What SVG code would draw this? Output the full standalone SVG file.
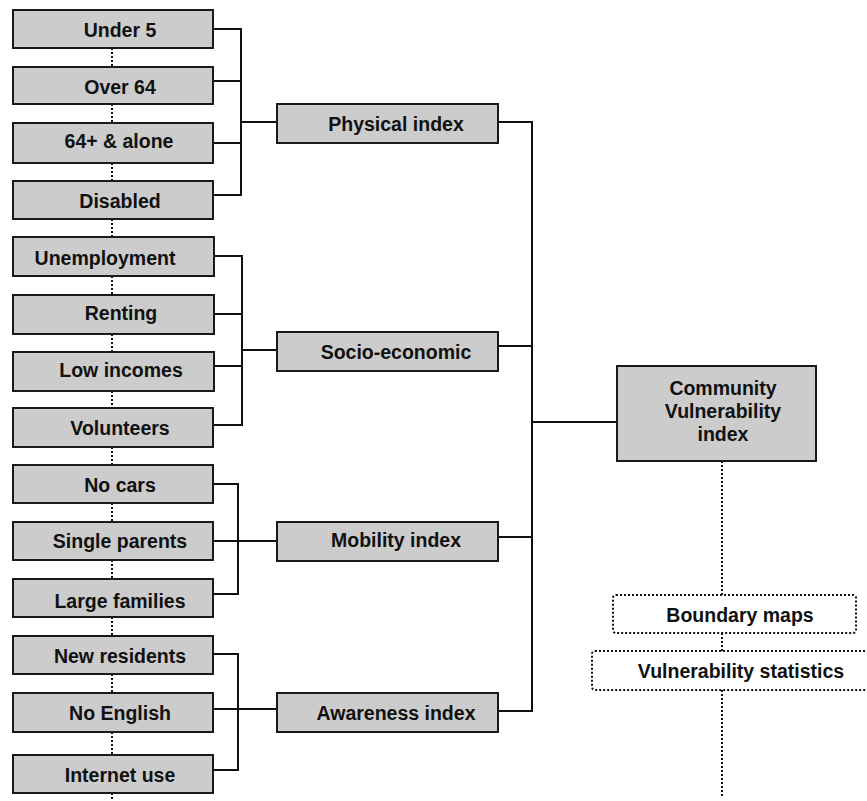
<svg xmlns="http://www.w3.org/2000/svg" width="867" height="801" viewBox="0 0 867 801">
<style>
.box{fill:#cccccc;stroke:#1a1a1a;stroke-width:2}
.dbox{fill:#ffffff;stroke:#111;stroke-width:2;stroke-dasharray:2 2}
.t{font-family:"Liberation Sans",Arial,sans-serif;font-weight:bold;font-size:19.5px;fill:#111;text-anchor:middle}
.ln{fill:none;stroke:#111;stroke-width:2}
.dot{fill:none;stroke:#111;stroke-width:2;stroke-dasharray:2 2}
</style>
<rect width="867" height="801" fill="#ffffff"/>
<g id="connectors">
<path class="dot" d="M112 48V67M112 104V123M112 163V181M112 219V237M112 276V295M112 334V352M112 391V408M112 447V465M112 503V522M112 560V579M112 617V636M112 674V693M112 732V755M112 793V801"/>
<path class="ln" d="M213 29H241V195H213M213 81H241M213 143H241M241 122H277"/>
<path class="ln" d="M214 256H242V425H214M214 314H242M214 366H242M242 350H277"/>
<path class="ln" d="M213 484H238V594H213M213 541H277"/>
<path class="ln" d="M213 654H238V770H213M213 709H277"/>
<path class="ln" d="M498 122H532V711H498M498 346H532M498 537H532M532 422H617"/>
<path class="dot" d="M722 461V595M722 633V651M722 690V797"/>
</g>
<g id="under5"><rect class="box" x="13" y="10" width="200" height="38"/><text class="t" x="120" y="37">Under 5</text></g>
<g id="over64"><rect class="box" x="13" y="67" width="200" height="37"/><text class="t" x="120" y="94">Over 64</text></g>
<g id="alone"><rect class="box" x="13" y="123" width="200" height="40"/><text class="t" x="119" y="148">64+ &amp; alone</text></g>
<g id="disabled"><rect class="box" x="13" y="181" width="200" height="38"/><text class="t" x="120" y="208">Disabled</text></g>
<g id="unemployment"><rect class="box" x="13" y="237" width="201" height="39"/><text class="t" x="105" y="265">Unemployment</text></g>
<g id="renting"><rect class="box" x="13" y="295" width="201" height="39"/><text class="t" x="121" y="320">Renting</text></g>
<g id="lowincomes"><rect class="box" x="13" y="352" width="201" height="39"/><text class="t" x="121" y="377">Low incomes</text></g>
<g id="volunteers"><rect class="box" x="13" y="408" width="200" height="39"/><text class="t" x="120" y="435">Volunteers</text></g>
<g id="nocars"><rect class="box" x="13" y="465" width="200" height="38"/><text class="t" x="120" y="492">No cars</text></g>
<g id="singleparents"><rect class="box" x="13" y="522" width="200" height="38"/><text class="t" x="120" y="548">Single parents</text></g>
<g id="largefamilies"><rect class="box" x="13" y="579" width="200" height="38"/><text class="t" x="120" y="608">Large families</text></g>
<g id="newresidents"><rect class="box" x="13" y="636" width="200" height="38"/><text class="t" x="120" y="663">New residents</text></g>
<g id="noenglish"><rect class="box" x="13" y="693" width="200" height="39"/><text class="t" x="120" y="720">No English</text></g>
<g id="internetuse"><rect class="box" x="13" y="755" width="200" height="38"/><text class="t" x="120" y="782">Internet use</text></g>
<g id="physical"><rect class="box" x="277" y="104" width="221" height="39"/><text class="t" x="396" y="131">Physical index</text></g>
<g id="socio"><rect class="box" x="277" y="332" width="221" height="39"/><text class="t" x="396" y="359">Socio-economic</text></g>
<g id="mobility"><rect class="box" x="277" y="522" width="221" height="39"/><text class="t" x="396" y="547">Mobility index</text></g>
<g id="awareness"><rect class="box" x="277" y="693" width="221" height="39"/><text class="t" x="396" y="720">Awareness index</text></g>
<g id="community"><rect class="box" x="617" y="366" width="199" height="95"/><text class="t" x="723" y="395">Community</text><text class="t" x="723" y="418">Vulnerability</text><text class="t" x="723" y="441">index</text></g>
<g id="boundary"><rect class="dbox" x="613" y="595" width="243" height="38" rx="3"/><text class="t" x="740" y="622">Boundary maps</text></g>
<g id="vstats"><rect class="dbox" x="592" y="651" width="278" height="39" rx="3"/><text class="t" x="741" y="678">Vulnerability statistics</text></g>
</svg>
